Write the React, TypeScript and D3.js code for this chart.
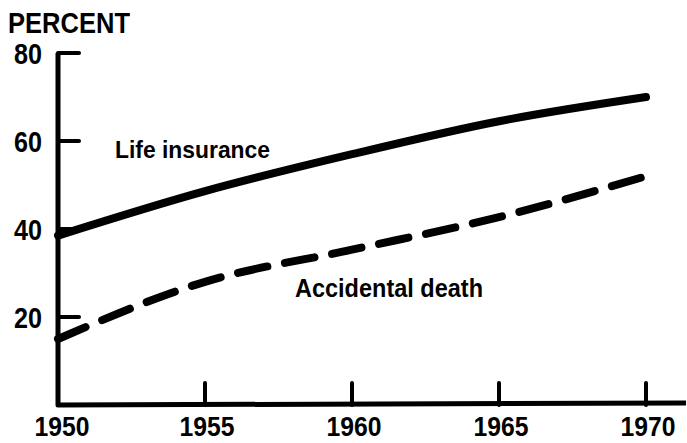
import React, { useEffect, useRef } from 'react';
import * as d3 from 'd3';

// values
const years = [1950, 1955, 1960, 1965, 1970];
const lifeInsurance = [38.5, 48.6, 57, 64.5, 70];
const accidentalDeath = [15, 28, 35.3, 42.7, 52];
const yTicks = [20, 40, 60, 80];
const xTickLabels = ['1950', '1955', '1960', '1965', '1970'];

const FONT = '"Liberation Sans Narrow", "Liberation Sans", Arial, sans-serif';

const App = () => {
    const svgRef = useRef(null);

    useEffect(() => {
        const width = 687;
        const height = 443;

        const svg = d3.select(svgRef.current)
            .attr('width', width)
            .attr('height', height);

        svg.selectAll('*').remove();

        const x = d3.scaleLinear().domain([1950, 1970]).range([58, 646]);
        const y = d3.scaleLinear().domain([0, 80]).range([405, 53]);

        // y axis + x axis
        svg.append('path')
            .attr('d', `M${x(1950)},${y(80)} L${x(1950)},${y(0)} L${x(1970) + 40},${y(0) - 2}`)
            .attr('fill', 'none')
            .attr('stroke', '#000')
            .attr('stroke-width', 5)
            .attr('stroke-linejoin', 'round');

        // y ticks point inward (right)
        svg.selectAll('.ytick')
            .data(yTicks)
            .join('line')
            .attr('class', 'ytick')
            .attr('x1', x(1950))
            .attr('x2', x(1950) + 21)
            .attr('y1', d => y(d))
            .attr('y2', d => y(d))
            .attr('stroke', '#000')
            .attr('stroke-width', 4)
            .attr('stroke-linecap', 'round');

        svg.selectAll('.ylabel')
            .data(yTicks)
            .join('text')
            .attr('class', 'ylabel')
            .attr('x', 42)
            .attr('y', d => y(d) + 11)
            .attr('text-anchor', 'end')
            .attr('font-family', FONT)
            .attr('font-weight', 'bold')
            .attr('font-size', 30)
            .attr('textLength', 28)
            .attr('lengthAdjust', 'spacingAndGlyphs')
            .text(d => d);

        // x ticks point up
        svg.selectAll('.xtick')
            .data(years.slice(1))
            .join('line')
            .attr('class', 'xtick')
            .attr('x1', d => x(d))
            .attr('x2', d => x(d))
            .attr('y1', y(0))
            .attr('y2', y(0) - 22)
            .attr('stroke', '#000')
            .attr('stroke-width', 4)
            .attr('stroke-linecap', 'round');

        svg.selectAll('.xlabel')
            .data(xTickLabels)
            .join('text')
            .attr('class', 'xlabel')
            .attr('x', (d, i) => x(years[i]) + (i === 0 ? 4 : 2))
            .attr('y', 436)
            .attr('text-anchor', 'middle')
            .attr('font-family', FONT)
            .attr('font-weight', 'bold')
            .attr('font-size', 27)
            .attr('textLength', 55)
            .attr('lengthAdjust', 'spacingAndGlyphs')
            .text(d => d);

        svg.append('text')
            .attr('x', 8)
            .attr('y', 33)
            .attr('font-family', FONT)
            .attr('font-weight', 'bold')
            .attr('font-size', 29)
            .attr('textLength', 122)
            .attr('lengthAdjust', 'spacingAndGlyphs')
            .text('PERCENT');

        const line = d3.line()
            .x(d => x(d[0]))
            .y(d => y(d[1]))
            .curve(d3.curveMonotoneX);

        svg.append('path')
            .datum(years.map((yr, i) => [yr, lifeInsurance[i]]))
            .attr('d', line)
            .attr('fill', 'none')
            .attr('stroke', '#000')
            .attr('stroke-width', 8)
            .attr('stroke-linecap', 'round');

        svg.append('path')
            .datum(years.map((yr, i) => [yr, accidentalDeath[i]]))
            .attr('d', line)
            .attr('fill', 'none')
            .attr('stroke', '#000')
            .attr('stroke-width', 8)
            .attr('stroke-linecap', 'round')
            .attr('stroke-dasharray', '30 18');

        svg.append('text')
            .attr('x', 115)
            .attr('y', 158)
            .attr('font-family', FONT)
            .attr('font-weight', 'bold')
            .attr('font-size', 24)
            .attr('textLength', 155)
            .attr('lengthAdjust', 'spacingAndGlyphs')
            .text('Life insurance');

        svg.append('text')
            .attr('x', 295)
            .attr('y', 297)
            .attr('font-family', FONT)
            .attr('font-weight', 'bold')
            .attr('font-size', 25)
            .attr('textLength', 188)
            .attr('lengthAdjust', 'spacingAndGlyphs')
            .text('Accidental death');
    }, []);

    return (
        <div style={{ position: 'absolute', left: 0, top: 0, background: '#fff' }}>
            <svg ref={svgRef} style={{ display: 'block' }} />
        </div>
    );
};

export default App;
